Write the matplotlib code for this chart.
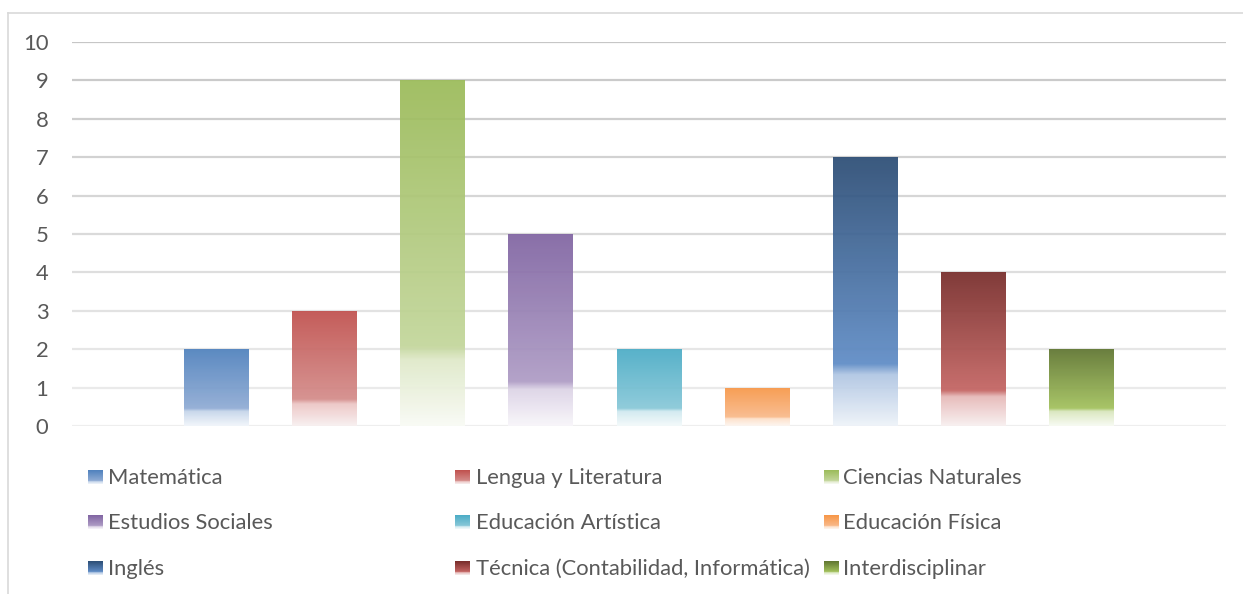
import numpy as np
import matplotlib
matplotlib.use("Agg")
import matplotlib.pyplot as plt
from matplotlib.colors import to_rgb

# ---- data ----
categories = ["Matemática", "Lengua y Literatura", "Ciencias Naturales",
              "Estudios Sociales", "Educación Artística", "Educación Física",
              "Inglés", "Técnica (Contabilidad, Informática)", "Interdisciplinar"]
values = [2, 3, 9, 5, 2, 1, 7, 4, 2]
yticks = [0, 1, 2, 3, 4, 5, 6, 7, 8, 9, 10]

# ---- styles (gradient stops: top, 77%, 80%, bottom) ----
gradients = [
    ["#4F81BD", "#8FABD4", "#C5D5EA", "#F2F6FB"],
    ["#C0504D", "#D48C8A", "#ECC5C4", "#F8F0F0"],
    ["#9BBB59", "#C3D69B", "#DFE9C9", "#F9FBF5"],
    ["#8064A2", "#AE9CC5", "#DCD3E6", "#F8F6FA"],
    ["#4BACC6", "#88C8D8", "#D0E9F0", "#F4FAFB"],
    ["#F79646", "#F9B98A", "#FDE0C8", "#FDF6F0"],
    ["#2C4D75", "#5F8CC6", "#B0C6E3", "#EEF3F9"],
    ["#772C2A", "#C46462", "#E6B8B7", "#F8F0F0"],
    ["#5F7530", "#A2C15C", "#D8E6BC", "#F8FBF3"],
]
stops = [0.0, 0.77, 0.81, 1.0]

FONT = ["Lato", "DejaVu Sans"]
TXT = "#595959"
FS = 15.8

W, H = 1243, 594
fig = plt.figure(figsize=(W / 100, H / 100), dpi=100)

def fx(px):
    return px / W

def fy(py):
    return 1 - py / H

# chart border (top and left visible)
fig.add_artist(plt.Line2D([fx(8), fx(1243)], [fy(13), fy(13)], color="#D9D9D9", lw=1.2))
fig.add_artist(plt.Line2D([fx(8), fx(8)], [fy(13), fy(594)], color="#D9D9D9", lw=1.2))

left, right, top, bottom = 72, 1226, 42, 426
ax = fig.add_axes([fx(left), fy(bottom), fx(right - left), (bottom - top) / H])

def grad_array(cols, n=300):
    rgb = np.array([to_rgb(c) for c in cols])
    t = np.linspace(0, 1, n)
    arr = np.stack([np.interp(t, stops, rgb[:, k]) for k in range(3)], axis=1)
    return arr[:, None, :]

x = np.arange(len(values))
# gridlines with fading gray
for v in yticks:
    f = v / 10.0
    g = 0.935 - 0.16 * f
    ax.axhline(v, color=(g, g, g), lw=1.6, zorder=1)

bars = ax.bar(x, values, width=0.6, color="none", edgecolor="none", zorder=2)
for b, cols in zip(bars, gradients):
    x0, w, h = b.get_x(), b.get_width(), b.get_height()
    im = ax.imshow(grad_array(cols), extent=[x0, x0 + w, 0, h], origin="upper",
                   aspect="auto", interpolation="bilinear", zorder=2, alpha=0.93)
    im.set_clip_path(b)

ax.set_xlim(-1.338, len(values) - 1 + 1.338)
ax.set_ylim(0, 10)
ax.set_yticks(yticks)
ax.set_yticklabels([str(t) for t in yticks], fontfamily=FONT, fontsize=FS, color=TXT)
ax.tick_params(axis="y", length=0, pad=17)
ax.set_xticks([])
for s in ax.spines.values():
    s.set_visible(False)
ax.patch.set_alpha(0)

# ---- legend (3 columns x 3 rows) ----
col_marker_x = [88, 455, 824]
col_text_x = [108, 476, 843]
row_y = [477, 522, 568]
for i, (name, cols) in enumerate(zip(categories, gradients)):
    r, c = divmod(i, 3)
    mx, my = col_marker_x[c], row_y[r]
    lax = fig.add_axes([fx(mx), fy(my + 7), fx(15), 14 / H])
    lax.imshow(grad_array(cols), aspect="auto", origin="upper", interpolation="bilinear")
    lax.set_axis_off()
    fig.text(fx(col_text_x[c]), fy(my + 1), name, fontfamily=FONT, fontsize=FS,
             color=TXT, ha="left", va="center")

fig.savefig("out.png", dpi=100, facecolor="white")
